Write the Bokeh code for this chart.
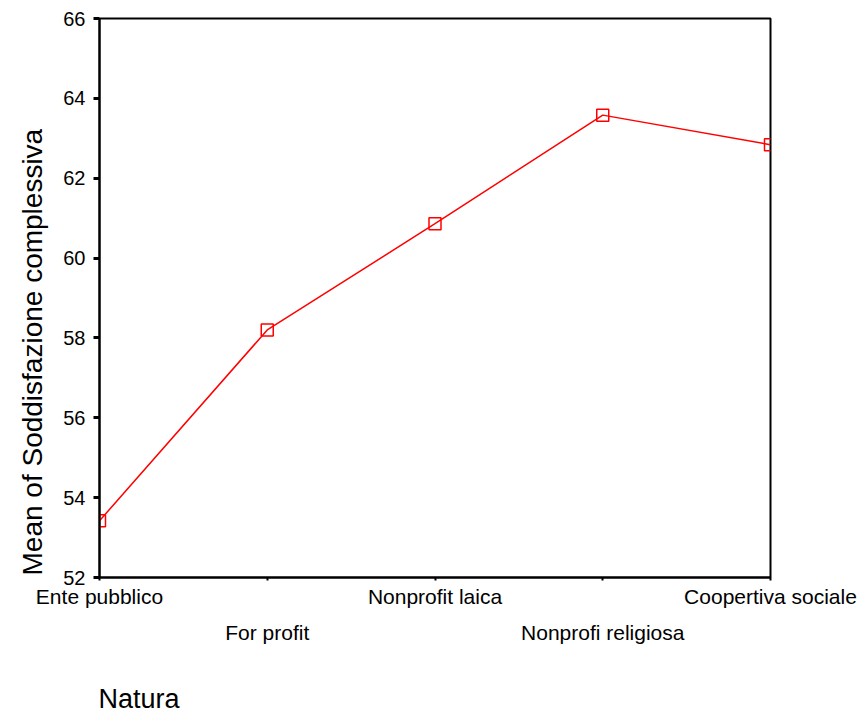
from bokeh.plotting import figure
from bokeh.models import Range1d, FixedTicker, LinearAxis, Title
from bokeh.embed import file_html
from bokeh.resources import INLINE

categories = ["Ente pubblico", "For profit", "Nonprofit laica", "Nonprofi religiosa", "Coopertiva sociale"]
means = [53.42, 58.2, 60.86, 63.58, 62.84]
y_ticks = [52, 54, 56, 58, 60, 62, 64, 66]
x_title = "Natura"
y_title = "Mean of Soddisfazione complessiva"

FONT = "Liberation Sans"
xs = list(range(len(categories)))

p = figure(frame_width=671, frame_height=559, output_backend="svg", toolbar_location=None,
           x_range=Range1d(0, len(categories) - 1), y_range=Range1d(52, 66),
           min_border_left=99, min_border_right=92, min_border_top=18, min_border_bottom=5)
p.background_fill_color = "white"
p.border_fill_color = "white"
p.xgrid.visible = False
p.ygrid.visible = False
p.outline_line_color = "black"
p.outline_line_width = 2

p.line(xs, means, line_color="red", line_width=1.5)
p.scatter(xs, means, marker="square", size=12, fill_color=None, line_color="red", line_width=1.5)

# y axis
ya = p.yaxis[0]
ya.ticker = FixedTicker(ticks=y_ticks)
ya.axis_line_color = "black"
ya.axis_line_width = 2
ya.major_tick_in = 0
ya.major_tick_out = 6
ya.major_tick_line_width = 3
ya.minor_tick_line_color = None
ya.major_label_text_font = FONT
ya.major_label_text_font_size = "20px"
ya.major_label_text_color = "black"
ya.major_label_standoff = 8

# x axis row 1
xa = p.xaxis[0]
xa.ticker = FixedTicker(ticks=xs)
xa.major_label_overrides = {i: (categories[i] if i % 2 == 0 else "") for i in xs}
xa.axis_line_color = "black"
xa.axis_line_width = 2
xa.major_tick_in = 0
xa.major_tick_out = 3
xa.major_tick_line_width = 2
xa.minor_tick_line_color = None
xa.major_label_text_font = FONT
xa.major_label_text_font_size = "21px"
xa.major_label_text_color = "black"
xa.major_label_standoff = 4

# x axis row 2
xb = LinearAxis(ticker=FixedTicker(ticks=[i for i in xs if i % 2 == 1]))
xb.major_label_overrides = {i: categories[i] for i in xs if i % 2 == 1}
xb.axis_line_color = None
xb.major_tick_line_color = None
xb.minor_tick_line_color = None
xb.major_label_text_font = FONT
xb.major_label_text_font_size = "21px"
xb.major_label_text_color = "black"
xb.major_label_standoff = 4
p.add_layout(xb, "below")

tx = Title(text=x_title, align="left", offset=-1, text_font=FONT, text_font_size="27px",
           text_font_style="normal", text_color="black", standoff=71)
p.add_layout(tx, "below")

ty = Title(text=y_title, align="left", offset=2, text_font=FONT,
           text_font_size="28px", text_font_style="normal", text_color="black", standoff=22,
           vertical_align="top")
p.add_layout(ty, "left")

open("out.html", "w").write(file_html(p, INLINE))
